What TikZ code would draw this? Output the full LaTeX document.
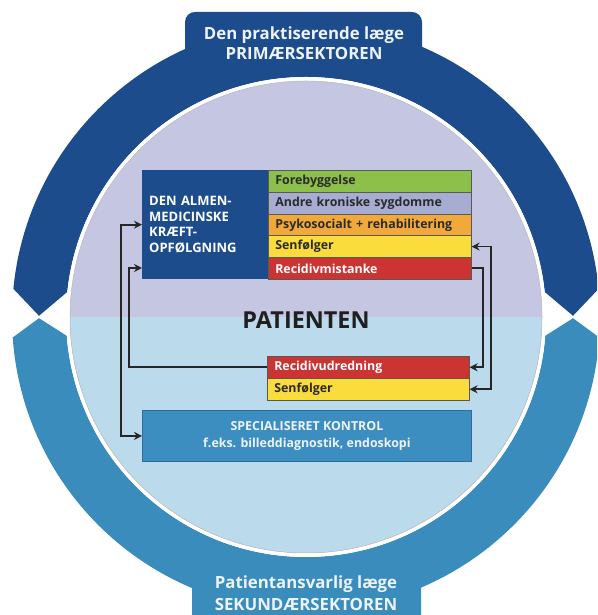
\documentclass[tikz,border=0pt]{standalone}
\usepackage{fontspec}
\setmainfont{Open Sans}
\usetikzlibrary{arrows.meta,calc}
\definecolor{ringdark}{HTML}{1D4C8C}
\definecolor{ringlight}{HTML}{3A8CBC}
\definecolor{lav}{HTML}{C4C6E2}
\definecolor{lowblue}{HTML}{BBDAEB}
\definecolor{cgreen}{HTML}{8CC04B}
\definecolor{cgray}{HTML}{A7ACD2}
\definecolor{corange}{HTML}{F2A93B}
\definecolor{cyellow}{HTML}{FADC3C}
\definecolor{cred}{HTML}{CB3433}
\definecolor{cspec}{HTML}{3D8EC0}
\definecolor{cspecline}{HTML}{2C6E99}
\definecolor{rowline}{HTML}{5A5A50}
\definecolor{rowtext}{HTML}{2B2B2B}
\definecolor{ringtext}{HTML}{EEF3FA}
\definecolor{arrowc}{HTML}{262626}
\begin{document}
\begin{tikzpicture}[x=1pt,y=1pt,
  row/.style={draw=rowline, line width=0.6pt, minimum height=21.8pt, inner ysep=0pt, inner xsep=7pt,
    text width=189pt, align=left, anchor=north west, font=\fontsize{12.4}{14}\selectfont\bfseries, text=rowtext},
  rowb/.style={row, text width=188pt, minimum height=22pt},
  conn/.style={draw=arrowc, line width=1.8pt, -{Stealth[length=8pt,width=8pt]}},
  connb/.style={draw=arrowc, line width=1.8pt, {Stealth[length=8pt,width=8pt]}-{Stealth[length=8pt,width=8pt]}},
  ringlabel/.style={text=ringtext, align=center, font=\fontsize{16.8}{20.5}\selectfont\bfseries}
]
\clip (0,0) rectangle (597,615);
\coordinate (C) at (306,298);
% outer ring
\fill[ringdark] ($(C)+(5.5:294)$) arc[start angle=5.5, end angle=174.5, radius=294]
  -- ($(C)+(-267,1.2)$) -- ($(C)+(174:240)$) arc[start angle=174, end angle=6, radius=240]
  -- ($(C)+(267,1.2)$) -- cycle;
\fill[ringlight] ($(C)+(-4:294)$) arc[start angle=-4, end angle=-176, radius=294]
  -- ($(C)+(-267,-1.2)$) -- ($(C)+(-175.5:240)$) arc[start angle=-175.5, end angle=-4.5, radius=240]
  -- ($(C)+(267,-1.2)$) -- cycle;
% tabs
\fill[ringdark, rounded corners=10pt] (185,545) rectangle (422,603);
\fill[ringlight, rounded corners=10pt] (192,-20) rectangle (421,50);
% inner circle
\fill[white] (C) circle (240);
\fill[lav] (C) circle (236);
\fill[lowblue] ($(C)+(-236,0)$) arc[start angle=180, end angle=360, radius=236] -- cycle;
\draw[gray!55, line width=0.5pt] (C) circle (236);
% ring labels
\node[ringlabel] (top) at (304,572) {Den praktiserende læge\\PRIMÆRSEKTOREN};
\node[ringlabel, font=\fontsize{16.8}{22}\selectfont\bfseries] (bottom) at (306,22) {Patientansvarlig læge\\SEKUNDÆRSEKTOREN};
% patient
\node[font=\fontsize{23.4}{26}\selectfont\bfseries, text=black!88] (pat) at (306,295) {PATIENTEN};
% almen box
\node[fill=ringdark, minimum width=126pt, minimum height=109pt, inner xsep=7pt, text width=112pt, align=left,
  anchor=north west, text=white, font=\fontsize{13}{15.5}\selectfont\bfseries] (almen) at (142,445)
  {DEN ALMEN-\\MEDICINSKE\\KRÆFT-\\OPFØLGNING\\[6pt]};
\node[row, fill=cgreen] (fore) at (268,445) {Forebyggelse};
\node[row, fill=cgray] (andre) at (268,423.2) {Andre kroniske sygdomme};
\node[row, fill=corange] (psyk) at (268,401.4) {Psykosocialt + rehabilitering};
\node[row, fill=cyellow] (sen1) at (268,379.6) {Senfølger};
\node[row, fill=cred, text=white] (recm) at (268,357.8) {Recidivmistanke};
% lower rows
\node[rowb, fill=cred, text=white] (recu) at (267,259) {Recidivudredning};
\node[rowb, fill=cyellow] (sen2) at (267,237) {Senfølger};
% specialiseret
\node[draw=cspecline, line width=0.8pt, fill=cspec, minimum width=329pt, minimum height=51pt, anchor=north west,
  align=center, text=ringtext, font=\fontsize{12.4}{16.5}\selectfont\bfseries] (spec) at (142,205)
  {SPECIALISERET KONTROL\\f.eks. billeddiagnostik, endoskopi};
% connectors
\coordinate (colA) at (129,347);
\draw[conn] (recu.west) -| (colA) -- (almen.west |- colA);
\draw[connb] (almen.west) -- ++(-21,0) |- (spec.west);
\draw[conn] (recm.east) -- ++(11,0) |- (recu.east);
\draw[connb] (sen1.east) -- ++(19,0) |- (sen2.east);
\end{tikzpicture}
\end{document}
